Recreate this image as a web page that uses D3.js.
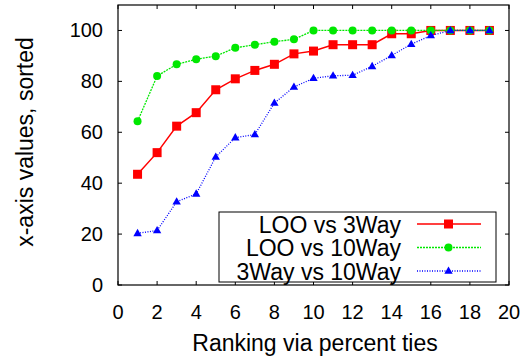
<!DOCTYPE html>
<html>
<head>
<meta charset="utf-8">
<script src="https://cdn.jsdelivr.net/npm/d3@7"></script>
<style>
  body { margin: 0; background: #fff; }
  text { font-family: "Liberation Sans", Arial, sans-serif; }
</style>
</head>
<body>
<div id="chart"></div>
<script>
const ranks = [1, 2, 3, 4, 5, 6, 7, 8, 9, 10, 11, 12, 13, 14, 15, 16, 17, 18, 19];
const looVs3Way = [43.5, 52, 62.4, 67.7, 76.7, 81, 84.3, 86.7, 90.8, 91.9, 94.4, 94.4, 94.4, 98.7, 98.7, 100, 100, 100, 100];
const looVs10Way = [64.3, 82.1, 86.7, 88.7, 89.9, 93.2, 94.4, 95.6, 96.5, 100, 100, 100, 100, 100, 100, 100, 100, 100, 100];
const w3VsW10 = [20.3, 21.4, 32.7, 35.8, 50.3, 57.9, 59.1, 71.5, 77.8, 81.2, 82.2, 82.4, 85.9, 90.2, 94.6, 98, 100, 100, 100];
const xTicks = [0, 2, 4, 6, 8, 10, 12, 14, 16, 18, 20];
const yTicks = [0, 20, 40, 60, 80, 100];

const series = [
  { name: "LOO vs 3Way", values: looVs3Way, color: "#ff0000", dash: null, marker: "square" },
  { name: "LOO vs 10Way", values: looVs10Way, color: "#00e800", dash: "2,1", marker: "circle" },
  { name: "3Way vs 10Way", values: w3VsW10, color: "#0000ff", dash: "1,1.5", marker: "triangle" },
];

const width = 530, height = 363;
const plotLeft = 118, plotRight = 509, plotTop = 5, plotBottom = 285;

const svg = d3.select("#chart").append("svg")
  .attr("width", width).attr("height", height);

const x = d3.scaleLinear([0, 20], [plotLeft, plotRight]);
const y = d3.scaleLinear([0, 110], [plotBottom, plotTop]);

const tickLen = 4;
const axisG = svg.append("g").attr("stroke", "#000").attr("stroke-width", 1);

// ticks on all four sides, pointing inward
xTicks.forEach((t) => {
  axisG.append("line").attr("x1", x(t)).attr("x2", x(t)).attr("y1", plotBottom).attr("y2", plotBottom - tickLen);
  axisG.append("line").attr("x1", x(t)).attr("x2", x(t)).attr("y1", plotTop).attr("y2", plotTop + tickLen);
});
yTicks.forEach((t) => {
  axisG.append("line").attr("x1", plotLeft).attr("x2", plotLeft + tickLen).attr("y1", y(t)).attr("y2", y(t));
  axisG.append("line").attr("x1", plotRight).attr("x2", plotRight - tickLen).attr("y1", y(t)).attr("y2", y(t));
});

svg.append("g").selectAll("text").data(xTicks).join("text")
  .attr("x", (d) => x(d)).attr("y", 319)
  .attr("text-anchor", "middle").attr("font-size", 20)
  .text((d) => d);

svg.append("g").selectAll("text").data(yTicks).join("text")
  .attr("x", plotLeft - 15).attr("y", (d) => y(d) + 7)
  .attr("text-anchor", "end").attr("font-size", 20)
  .text((d) => d);

svg.append("text")
  .attr("x", 315).attr("y", 351)
  .attr("text-anchor", "middle").attr("font-size", 23)
  .text("Ranking via percent ties");

svg.append("text")
  .attr("transform", "translate(33,142) rotate(-90)")
  .attr("text-anchor", "middle").attr("font-size", 23)
  .text("x-axis values, sorted");

function drawMarker(g, type, cx, cy, color) {
  if (type === "square") {
    g.append("rect").attr("x", cx - 4.5).attr("y", cy - 4.5)
      .attr("width", 9).attr("height", 9).attr("fill", color);
  } else if (type === "circle") {
    g.append("circle").attr("cx", cx).attr("cy", cy).attr("r", 4).attr("fill", color);
  } else {
    g.append("path")
      .attr("d", `M${cx},${cy - 4.5}L${cx + 4.2},${cy + 2.8}L${cx - 4.2},${cy + 2.8}Z`)
      .attr("fill", color);
  }
}

const line = d3.line().x((d, i) => x(ranks[i])).y((d) => y(d));

series.forEach((s) => {
  const g = svg.append("g");
  g.append("path")
    .attr("d", line(s.values))
    .attr("fill", "none")
    .attr("stroke", s.color)
    .attr("stroke-width", s.dash ? 1.3 : 1.5)
    .attr("stroke-dasharray", s.dash);
  s.values.forEach((v, i) => drawMarker(g, s.marker, x(ranks[i]), y(v), s.color));
});

// legend
const legend = svg.append("g");
legend.append("rect")
  .attr("x", 219).attr("y", 212).attr("width", 277).attr("height", 70)
  .attr("fill", "#fff").attr("stroke", "#000").attr("stroke-width", 1);
series.forEach((s, i) => {
  const ly = 224 + i * 23.5;
  legend.append("text")
    .attr("x", 401).attr("y", ly + 8.5)
    .attr("text-anchor", "end").attr("font-size", 23)
    .text(s.name);
  legend.append("line")
    .attr("x1", 417).attr("x2", 481).attr("y1", ly).attr("y2", ly)
    .attr("stroke", s.color)
    .attr("stroke-width", s.dash ? 1.3 : 1.5)
    .attr("stroke-dasharray", s.dash);
  drawMarker(legend, s.marker, 448.5, ly, s.color);
});

// plot frame
svg.append("rect")
  .attr("x", plotLeft).attr("y", plotTop)
  .attr("width", plotRight - plotLeft).attr("height", plotBottom - plotTop)
  .attr("fill", "none").attr("stroke", "#000").attr("stroke-width", 1.2);
</script>
</body>
</html>
